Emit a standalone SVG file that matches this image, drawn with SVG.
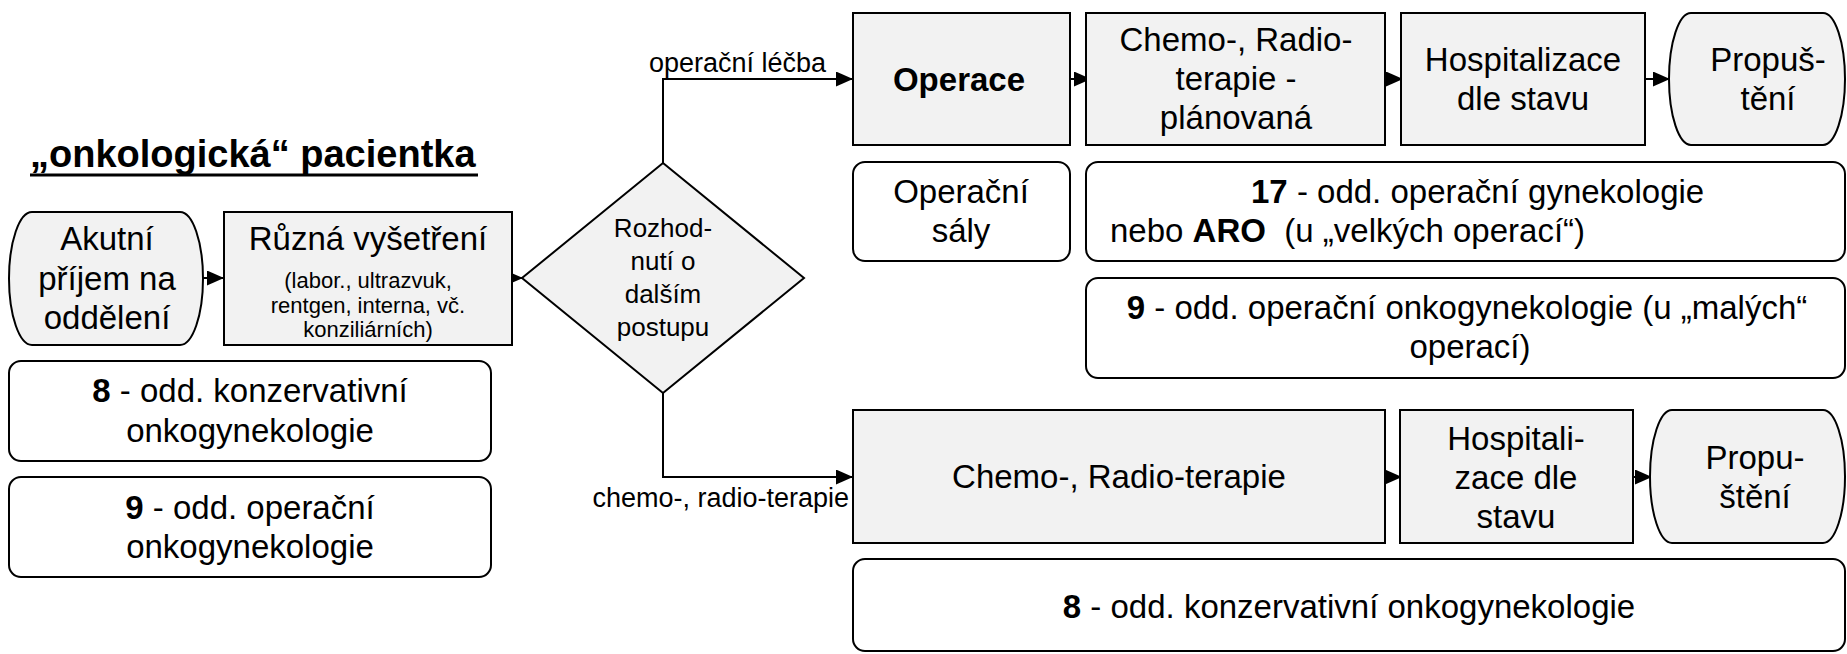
<svg xmlns="http://www.w3.org/2000/svg" width="1847" height="654" viewBox="0 0 1847 654">
  <style>
    .proc { fill: #f2f2f2; stroke: #000; stroke-width: 2; }
    .dept { fill: #fff; stroke: #000; stroke-width: 2; }
    .t { font-family: "Liberation Sans", Arial, sans-serif; font-size: 33px; fill: #000; text-anchor: middle; }
    .t.left { text-anchor: start; }
    .s { font-family: "Liberation Sans", Arial, sans-serif; font-size: 22px; fill: #000; text-anchor: middle; }
    .d { font-family: "Liberation Sans", Arial, sans-serif; font-size: 26px; fill: #000; text-anchor: middle; }
    .lbl { font-family: "Liberation Sans", Arial, sans-serif; font-size: 27px; fill: #000; }
    .lbl.end { text-anchor: end; }
    .b { font-weight: bold; }
    .conn { fill: none; stroke: #000; stroke-width: 2; }
  </style>
  <defs>
    <marker id="arrow" markerUnits="userSpaceOnUse" markerWidth="18" markerHeight="16" refX="17" refY="7.5" orient="auto">
      <path d="M0,0 L17,7.5 L0,15 z" fill="#000"/>
    </marker>
  </defs>

  <!-- heading -->
  <g id="title">
    <text x="30" y="167" font-family="Liberation Sans, Arial, sans-serif" font-size="38" font-weight="bold">„onkologická“ pacientka</text>
    <line x1="30" y1="175" x2="478" y2="175" stroke="#000" stroke-width="3"/>
  </g>

  <!-- connectors -->
  <g id="connectors">
    <line class="conn" x1="203" y1="278" x2="224" y2="278" marker-end="url(#arrow)"/>
    <line class="conn" x1="512" y1="278" x2="523" y2="278" marker-end="url(#arrow)"/>
    <polyline class="conn" points="663,163 663,79 853,79" marker-end="url(#arrow)"/>
    <polyline class="conn" points="663,393 663,477 853,477" marker-end="url(#arrow)"/>
    <line class="conn" x1="1070" y1="79" x2="1091" y2="79" marker-end="url(#arrow)"/>
    <line class="conn" x1="1385" y1="79" x2="1403" y2="79" marker-end="url(#arrow)"/>
    <line class="conn" x1="1645" y1="79" x2="1670" y2="79" marker-end="url(#arrow)"/>
    <line class="conn" x1="1385" y1="477" x2="1402" y2="477" marker-end="url(#arrow)"/>
    <line class="conn" x1="1633" y1="477" x2="1652" y2="477" marker-end="url(#arrow)"/>
    <text class="lbl" x="649" y="72">operační léčba</text>
    <text class="lbl end" x="849" y="507">chemo-, radio-terapie</text>
  </g>

  <!-- left column -->
  <g id="akutni">
    <rect class="proc" x="9" y="212" width="194" height="133" rx="23" ry="66.5"/>
    <text class="t" x="107" y="250">Akutní</text>
    <text class="t" x="107" y="290">příjem na</text>
    <text class="t" x="107" y="329">oddělení</text>
  </g>
  <g id="vysetreni">
    <rect class="proc" x="224" y="212" width="288" height="133"/>
    <text class="t" x="368" y="250">Různá vyšetření</text>
    <text class="s" x="368" y="288">(labor., ultrazvuk,</text>
    <text class="s" x="368" y="313">rentgen, interna, vč.</text>
    <text class="s" x="368" y="337">konziliárních)</text>
  </g>
  <g id="odd8-left">
    <rect class="dept" x="9" y="361" width="482" height="100" rx="12"/>
    <text class="t" x="250" y="402"><tspan class="b">8</tspan> - odd. konzervativní</text>
    <text class="t" x="250" y="442">onkogynekologie</text>
  </g>
  <g id="odd9-left">
    <rect class="dept" x="9" y="477" width="482" height="100" rx="12"/>
    <text class="t" x="250" y="519"><tspan class="b">9</tspan> - odd. operační</text>
    <text class="t" x="250" y="558">onkogynekologie</text>
  </g>

  <!-- decision -->
  <g id="rozhodnuti">
    <polygon class="proc" points="663,163 804,278 663,393 522,278"/>
    <text class="d" x="663" y="237">Rozhod-</text>
    <text class="d" x="663" y="270">nutí o</text>
    <text class="d" x="663" y="303">dalším</text>
    <text class="d" x="663" y="336">postupu</text>
  </g>

  <!-- surgical branch -->
  <g id="operace">
    <rect class="proc" x="853" y="13" width="217" height="132"/>
    <text class="t b" x="959" y="91">Operace</text>
  </g>
  <g id="chemo-planovana">
    <rect class="proc" x="1086" y="13" width="299" height="132"/>
    <text class="t" x="1236" y="51">Chemo-, Radio-</text>
    <text class="t" x="1236" y="90">terapie -</text>
    <text class="t" x="1236" y="129">plánovaná</text>
  </g>
  <g id="hospitalizace-1">
    <rect class="proc" x="1401" y="13" width="244" height="132"/>
    <text class="t" x="1523" y="71">Hospitalizace</text>
    <text class="t" x="1523" y="110">dle stavu</text>
  </g>
  <g id="propusteni-1">
    <rect class="proc" x="1669" y="13" width="176" height="132" rx="22" ry="66"/>
    <text class="t" x="1768" y="71">Propuš-</text>
    <text class="t" x="1768" y="110">tění</text>
  </g>
  <g id="operacni-saly">
    <rect class="dept" x="853" y="162" width="217" height="99" rx="12"/>
    <text class="t" x="961" y="203">Operační</text>
    <text class="t" x="961" y="242">sály</text>
  </g>
  <g id="odd17">
    <rect class="dept" x="1086" y="162" width="759" height="99" rx="12"/>
    <text class="t left" x="1251" y="203"><tspan class="b">17</tspan> - odd. operační gynekologie</text>
    <text class="t left" x="1110" y="242">nebo <tspan class="b">ARO</tspan>&#160; (u „velkých operací“)</text>
  </g>
  <g id="odd9-right">
    <rect class="dept" x="1086" y="278" width="759" height="100" rx="12"/>
    <text class="t" x="1467" y="319"><tspan class="b">9</tspan> - odd. operační onkogynekologie (u „malých“</text>
    <text class="t" x="1470" y="358">operací)</text>
  </g>

  <!-- chemo/radio branch -->
  <g id="chemo-radio">
    <rect class="proc" x="853" y="410" width="532" height="133"/>
    <text class="t" x="1119" y="488">Chemo-, Radio-terapie</text>
  </g>
  <g id="hospitalizace-2">
    <rect class="proc" x="1400" y="410" width="233" height="133"/>
    <text class="t" x="1516" y="450">Hospitali-</text>
    <text class="t" x="1516" y="489">zace dle</text>
    <text class="t" x="1516" y="528">stavu</text>
  </g>
  <g id="propusteni-2">
    <rect class="proc" x="1650" y="410" width="195" height="133" rx="22" ry="66.5"/>
    <text class="t" x="1755" y="469">Propu-</text>
    <text class="t" x="1755" y="508">štění</text>
  </g>
  <g id="odd8-right">
    <rect class="dept" x="853" y="559" width="992" height="92" rx="12"/>
    <text class="t" x="1349" y="618"><tspan class="b">8</tspan> - odd. konzervativní onkogynekologie</text>
  </g>
</svg>
